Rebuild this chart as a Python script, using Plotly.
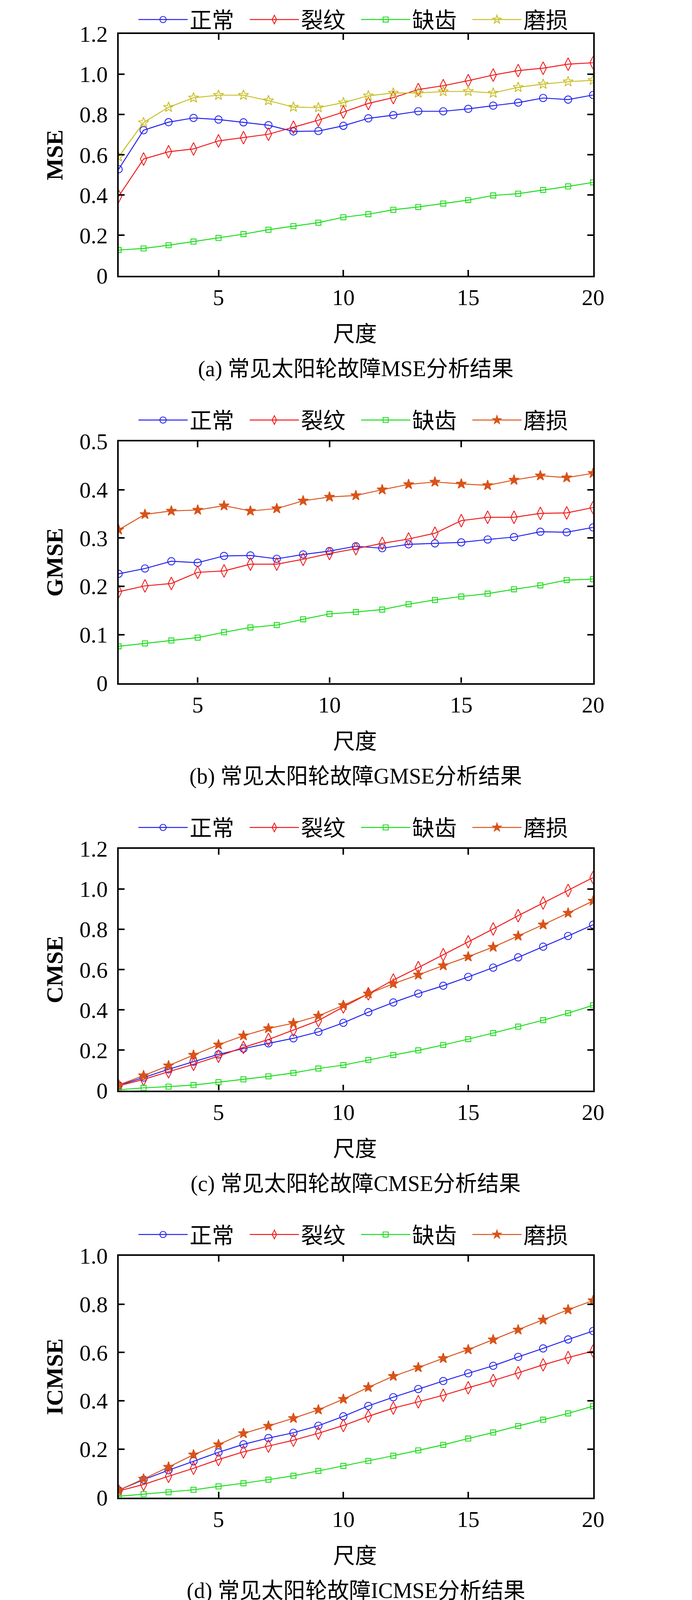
import plotly.graph_objects as go

# échelles (axe x)
scales = list(range(1, 21))
scales_b = list(range(2, 21))

labels = ["正常", "裂纹", "缺齿", "磨损"]

# (a) MSE
mse_normal = [0.528, 0.722, 0.762, 0.783, 0.775, 0.761, 0.747, 0.716, 0.718, 0.744,
              0.781, 0.797, 0.816, 0.816, 0.828, 0.844, 0.859, 0.882, 0.874, 0.897]
mse_crack = [0.394, 0.579, 0.615, 0.629, 0.669, 0.685, 0.702, 0.737, 0.772, 0.812,
             0.855, 0.884, 0.924, 0.943, 0.968, 0.996, 1.018, 1.030, 1.050, 1.057]
mse_missing = [0.127, 0.135, 0.151, 0.169, 0.187, 0.206, 0.228, 0.246, 0.263, 0.290,
               0.305, 0.327, 0.341, 0.358, 0.375, 0.398, 0.407, 0.425, 0.443, 0.463]
mse_wear = [0.590, 0.760, 0.836, 0.883, 0.896, 0.896, 0.869, 0.837, 0.834, 0.859,
            0.893, 0.907, 0.907, 0.914, 0.915, 0.907, 0.935, 0.951, 0.963, 0.970]

# (b) GMSE (échelles 2..20)
gmse_normal = [0.226, 0.237, 0.252, 0.249, 0.263, 0.264, 0.257, 0.266, 0.273, 0.283,
               0.279, 0.287, 0.289, 0.291, 0.297, 0.302, 0.313, 0.312, 0.322]
gmse_crack = [0.189, 0.201, 0.206, 0.229, 0.232, 0.246, 0.246, 0.256, 0.268, 0.278,
              0.289, 0.298, 0.310, 0.336, 0.343, 0.343, 0.351, 0.352, 0.363]
gmse_missing = [0.076, 0.082, 0.088, 0.094, 0.105, 0.115, 0.120, 0.132, 0.143, 0.147,
                0.152, 0.163, 0.172, 0.179, 0.185, 0.194, 0.202, 0.213, 0.215]
gmse_wear = [0.317, 0.349, 0.356, 0.358, 0.367, 0.356, 0.361, 0.377, 0.385, 0.388,
             0.400, 0.411, 0.416, 0.412, 0.409, 0.420, 0.429, 0.425, 0.434]

# (c) CMSE
cmse_normal = [0.026, 0.064, 0.105, 0.143, 0.179, 0.208, 0.234, 0.259, 0.291, 0.336,
               0.389, 0.437, 0.481, 0.520, 0.564, 0.610, 0.661, 0.714, 0.767, 0.823]
cmse_crack = [0.023, 0.055, 0.093, 0.130, 0.170, 0.214, 0.253, 0.300, 0.347, 0.415,
              0.480, 0.548, 0.610, 0.674, 0.738, 0.802, 0.868, 0.931, 0.993, 1.057]
cmse_missing = [0.003, 0.013, 0.019, 0.027, 0.041, 0.055, 0.070, 0.087, 0.109, 0.126,
                0.151, 0.176, 0.199, 0.226, 0.255, 0.285, 0.317, 0.349, 0.384, 0.423]
cmse_wear = [0.027, 0.074, 0.123, 0.176, 0.227, 0.272, 0.308, 0.334, 0.370, 0.423,
             0.480, 0.530, 0.574, 0.620, 0.664, 0.712, 0.767, 0.823, 0.881, 0.941]

# (d) ICMSE
icmse_normal = [0.030, 0.074, 0.113, 0.150, 0.187, 0.220, 0.246, 0.268, 0.297, 0.336,
                0.379, 0.415, 0.449, 0.482, 0.514, 0.545, 0.582, 0.617, 0.654, 0.689]
icmse_crack = [0.027, 0.054, 0.088, 0.121, 0.157, 0.189, 0.213, 0.237, 0.266, 0.298,
               0.336, 0.370, 0.396, 0.423, 0.454, 0.484, 0.516, 0.549, 0.579, 0.606]
icmse_missing = [0.005, 0.014, 0.022, 0.032, 0.046, 0.059, 0.074, 0.090, 0.110, 0.131,
                 0.151, 0.173, 0.195, 0.218, 0.244, 0.269, 0.296, 0.322, 0.348, 0.378]
icmse_wear = [0.030, 0.077, 0.126, 0.177, 0.219, 0.265, 0.296, 0.328, 0.363, 0.407,
              0.456, 0.502, 0.538, 0.576, 0.612, 0.653, 0.694, 0.735, 0.777, 0.815]

y_titles = ["MSE", "GMSE", "CMSE", "ICMSE"]
captions = ["(a) 常见太阳轮故障MSE分析结果", "(b) 常见太阳轮故障GMSE分析结果",
            "(c) 常见太阳轮故障CMSE分析结果", "(d) 常见太阳轮故障ICMSE分析结果"]
x_ticks = [5, 10, 15, 20]
y_ticks = [[0, 0.2, 0.4, 0.6, 0.8, 1.0, 1.2],
           [0, 0.1, 0.2, 0.3, 0.4, 0.5],
           [0, 0.2, 0.4, 0.6, 0.8, 1.0, 1.2],
           [0, 0.2, 0.4, 0.6, 0.8, 1.0]]
y_ticktext = [["0", "0.2", "0.4", "0.6", "0.8", "1.0", "1.2"],
              ["0", "0.1", "0.2", "0.3", "0.4", "0.5"],
              ["0", "0.2", "0.4", "0.6", "0.8", "1.0", "1.2"],
              ["0", "0.2", "0.4", "0.6", "0.8", "1.0"]]

panels = [
    (scales, [mse_normal, mse_crack, mse_missing, mse_wear]),
    (scales_b, [gmse_normal, gmse_crack, gmse_missing, gmse_wear]),
    (scales, [cmse_normal, cmse_crack, cmse_missing, cmse_wear]),
    (scales, [icmse_normal, icmse_crack, icmse_missing, icmse_wear]),
]

# la page est affichée agrandie (~1.07) avec une marge de 8 px : on compense
K = 1.07
OFF = 8
W = round(1772 / K) - 2 * OFF
H = round(4403 / K) - 2 * OFF

# positions cibles en pixels de la capture
PL, PR = 325, 1625
TOPS = [93, 1209, 2325, 3440]
PH = 662

SERIF = "Times New Roman, Liberation Serif, Noto Sans CJK SC"
CJK = "Noto Sans CJK SC"

def s(v):
    return v / K

def px(x):
    return (x / K - OFF) / W

def py(y):
    return 1 - (y / K - OFF) / H

colors = ["#2020F0", "#F01818", "#18DC18", "#D95319"]
symbols = ["circle-open", "diamond-tall-open", "square-open", "star"]
sizes = [20, 25, 14, 21]

fig = go.Figure()

for i, (xs, series) in enumerate(panels):
    n = "" if i == 0 else str(i + 1)
    for j, ys in enumerate(series):
        col = colors[j]
        sym = symbols[j]
        if i == 0 and j == 3:
            col = "#C8BE28"
            sym = "star-open"
        fig.add_trace(go.Scatter(
            x=xs, y=ys,
            name=labels[j],
            mode="lines+markers",
            line=dict(color=col, width=s(2.6)),
            marker=dict(symbol=sym, size=s(sizes[j]), color=col,
                        line=dict(color=col, width=s(2.3))),
            xaxis="x" + n, yaxis="y" + n,
            legend="legend" + n,
        ))

    top = TOPS[i]
    bot = top + PH
    axis_common = dict(
        showline=True, linecolor="black", linewidth=s(4.5), mirror="ticks",
        ticks="inside", ticklen=s(16), tickwidth=s(4), tickcolor="black",
        showgrid=False, zeroline=False,
        tickfont=dict(family=SERIF, size=s(62), color="black"),
    )
    fig.layout["xaxis" + n] = dict(
        axis_common,
        domain=[px(PL), px(PR)],
        range=[xs[0], 20],
        tickvals=x_ticks,
        anchor="y" + n,
        ticklabelstandoff=2,
    )
    fig.layout["yaxis" + n] = dict(
        axis_common,
        domain=[py(bot), py(top)],
        range=[0, y_ticks[i][-1]],
        tickvals=y_ticks[i],
        ticktext=y_ticktext[i],
        anchor="x" + n,
        ticklabelstandoff=12,
    )
    # légende : trait ~380-500 px, texte centré vers 584 px, pas de 307 px
    fig.layout["legend" + n] = dict(
        orientation="h",
        x=px(374), xanchor="left",
        y=py(max(top - 58, 54)), yanchor="middle",
        entrywidth=144, entrywidthmode="pixels",
        itemwidth=126,
        font=dict(family=CJK, size=57, color="black"),
        bgcolor="rgba(0,0,0,0)",
    )

    fig.add_annotation(x=px(150), y=py(top + PH / 2), xref="paper", yref="paper",
                       xanchor="center", yanchor="middle",
                       text=y_titles[i], textangle=-90, showarrow=False,
                       font=dict(family=SERIF, size=s(64), color="black", weight="bold"))
    fig.add_annotation(x=px(973), y=py(top + 816), xref="paper", yref="paper",
                       xanchor="center", yanchor="middle",
                       text="尺度", showarrow=False,
                       font=dict(family=CJK, size=s(60), color="black"))
    fig.add_annotation(x=px(975), y=py(top + 918), xref="paper", yref="paper",
                       xanchor="center", yanchor="middle",
                       text=captions[i], showarrow=False,
                       font=dict(family=SERIF, size=s(60), color="black"))

fig.update_layout(
    width=W, height=H,
    margin=dict(l=0, r=0, t=0, b=0, autoexpand=False),
    paper_bgcolor="white",
    plot_bgcolor="white",
    showlegend=True,
)

fig.write_html("out.html")
